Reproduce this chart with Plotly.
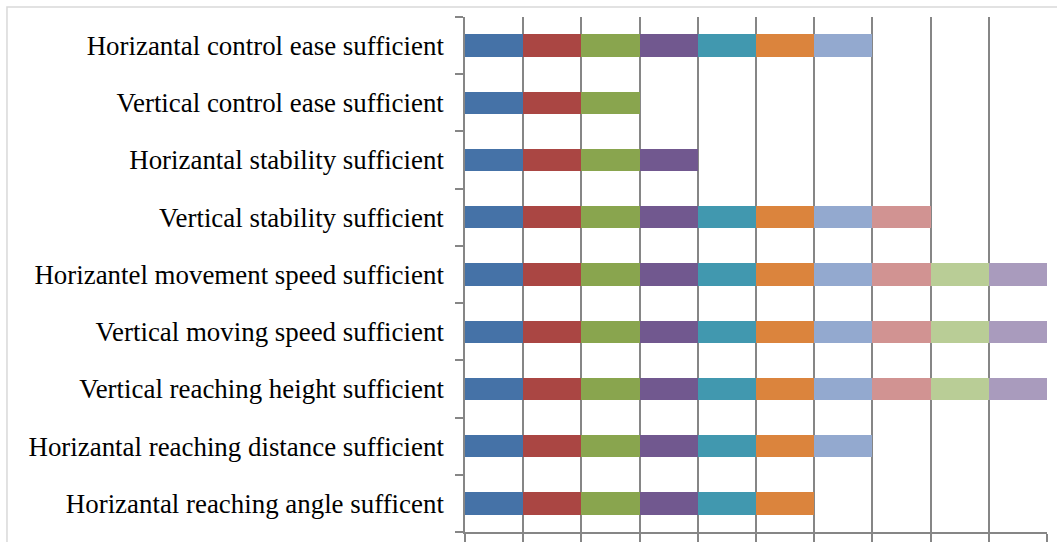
import plotly.graph_objects as go

categories = [
    "Horizantal control ease sufficient",
    "Vertical control ease sufficient",
    "Horizantal stability sufficient",
    "Vertical stability sufficient",
    "Horizantel movement speed sufficient",
    "Vertical moving speed sufficient",
    "Vertical reaching height sufficient",
    "Horizantal reaching distance sufficient",
    "Horizantal reaching angle sufficent",
]

# one list per series, values in the order of categories (top to bottom)
s1 = [1, 1, 1, 1, 1, 1, 1, 1, 1]
s2 = [1, 1, 1, 1, 1, 1, 1, 1, 1]
s3 = [1, 1, 1, 1, 1, 1, 1, 1, 1]
s4 = [1, 0, 1, 1, 1, 1, 1, 1, 1]
s5 = [1, 0, 0, 1, 1, 1, 1, 1, 1]
s6 = [1, 0, 0, 1, 1, 1, 1, 1, 1]
s7 = [1, 0, 0, 1, 1, 1, 1, 1, 0]
s8 = [0, 0, 0, 1, 1, 1, 1, 0, 0]
s9 = [0, 0, 0, 0, 1, 1, 1, 0, 0]
s10 = [0, 0, 0, 0, 1, 1, 1, 0, 0]
series = [s1, s2, s3, s4, s5, s6, s7, s8, s9, s10]

colors = ["#4572A7", "#AA4643", "#89A54E", "#71588F", "#4198AF",
          "#DB843D", "#93A9CF", "#D19392", "#B9CD96", "#A99BBD"]

fig = go.Figure()
for i, vals in enumerate(series):
    fig.add_trace(go.Bar(
        y=categories, x=vals, orientation="h",
        marker=dict(color=colors[i], line=dict(width=0)),
        name="Series %d" % (i + 1), showlegend=False,
    ))

grid = "#868686"
fig.update_layout(
    barmode="stack",
    bargap=0.61,
    width=1057, height=542,
    margin=dict(l=465, r=10, t=17, b=10),
    paper_bgcolor="white", plot_bgcolor="white",
    font=dict(family="Liberation Serif", size=26.9, color="black"),
    xaxis=dict(range=[0, 10], dtick=1, tick0=0, showgrid=True, gridcolor=grid,
               gridwidth=1.5, showticklabels=False, ticks="outside", ticklen=10,
               tickcolor=grid, tickwidth=1.5, showline=True, linecolor=grid,
               linewidth=1.5, zeroline=False, automargin=False),
    yaxis=dict(categoryorder="array", categoryarray=categories[::-1],
               tickson="boundaries", ticks="outside", ticklen=8, tickcolor=grid,
               tickwidth=1.5, showgrid=False, showline=True, linecolor=grid,
               linewidth=1.5, ticklabelstandoff=14, automargin=False),
    shapes=[dict(type="rect", xref="paper", yref="paper",
                 x0=-0.787, x1=1.2, y0=-0.2, y1=1.0194,
                 line=dict(color="#d9d9d9", width=1.5), fillcolor="rgba(0,0,0,0)",
                 layer="below")],
)

fig.write_html("out.html", config={"displayModeBar": False},
               post_script="document.body.style.margin='0';document.body.style.overflow='hidden';")
